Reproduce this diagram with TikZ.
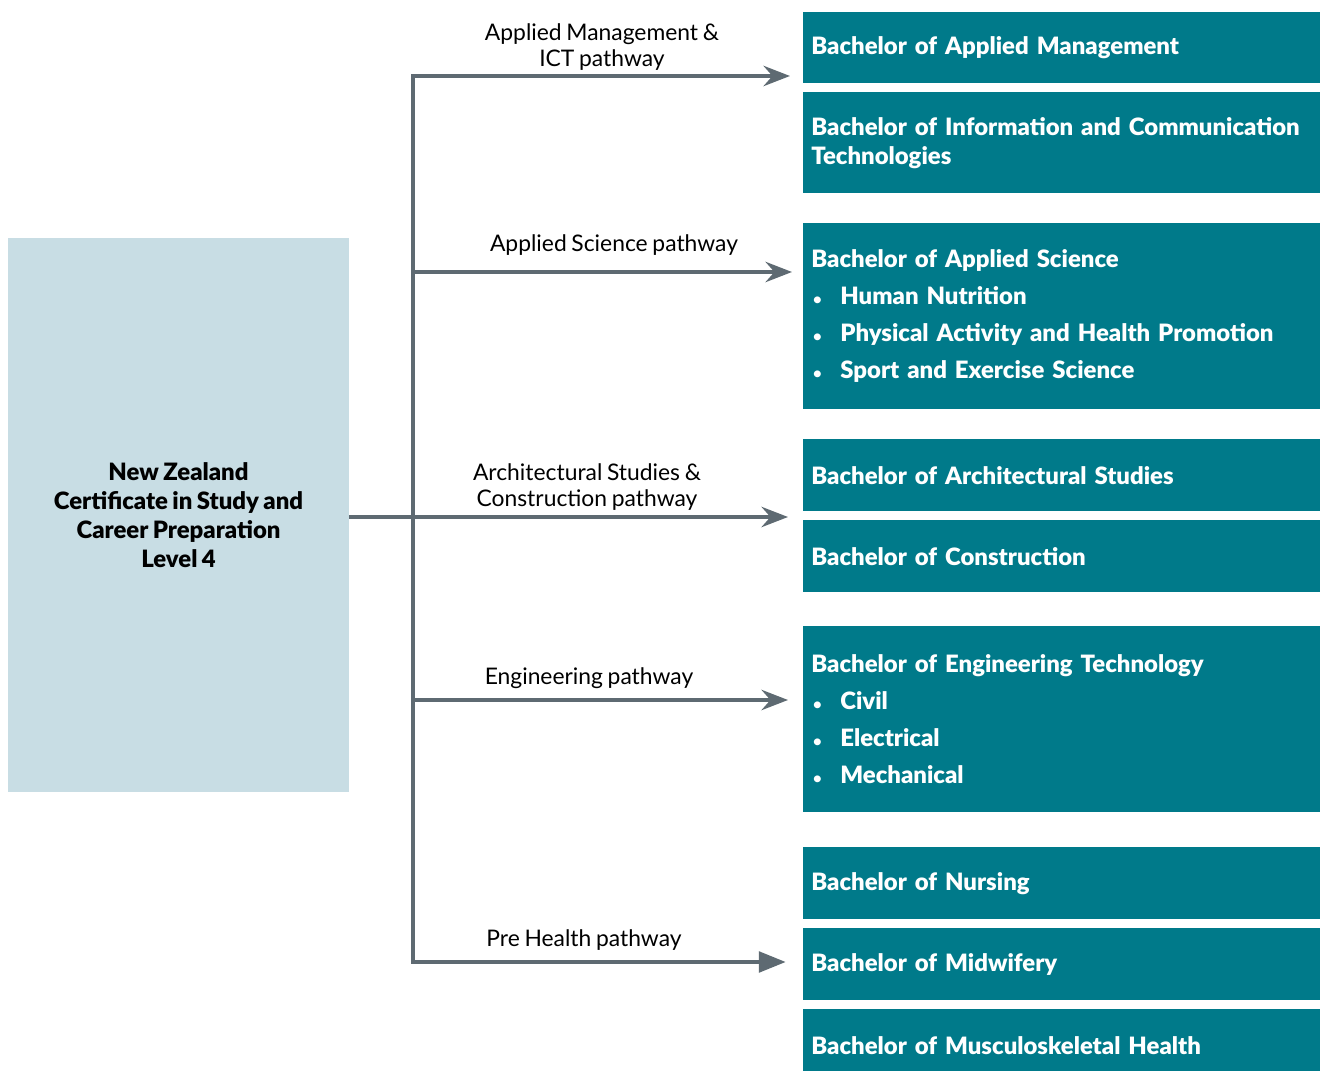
\documentclass[tikz,border=0pt]{standalone}
\usepackage{fontspec}
\setsansfont{Lato}[BoldFont={Lato Black}, WordSpace=0.8]
\usetikzlibrary{positioning, arrows.meta}
\definecolor{degreeteal}{HTML}{007A8A}
\definecolor{certblue}{HTML}{C8DDE4}
\definecolor{pathgray}{HTML}{5E6A72}
\newcommand{\degbullet}[1]{\\[4.5pt]\makebox[0.58cm][l]{\hspace{0.04cm}{\footnotesize\textbullet}}#1}
\tikzset{
	degree/.style={fill=degreeteal, text=white, anchor=north west, font=\sffamily\bfseries\fontsize{13.6}{16.5}\selectfont, minimum width=10.34cm, text width=10.02cm, inner xsep=0.16cm, inner ysep=0pt, align=left},
	pathway/.style={draw=pathgray, line width=2.8pt},
	pathlabel/.style={font=\sffamily\fontsize{13}{14.5}\selectfont, align=center, inner sep=0pt},
	>={Stealth[length=15pt, width=11.5pt, inset=5pt]}
}

\begin{document}
\begin{tikzpicture}[x=0.02cm, y=-0.02cm]
		\useasboundingbox (0, 0) rectangle (1320, 1071);
		\node[fill=certblue, minimum width=6.82cm, minimum height=11.08cm, align=center, inner sep=0pt, font=\sffamily\bfseries\fontsize{13.6}{16.5}\selectfont] (cert) at (178.5, 515) {New Zealand\\Certificate in Study and\\Career Preparation\\Level 4};
		\node[degree, minimum height=1.42cm] (bam) at (803, 12) {Bachelor of Applied Management};
		\node[degree, minimum height=2.02cm] (bict) at (803, 92) {Bachelor of Information and Communication\\Technologies};
		\node[degree, minimum height=3.72cm] (basc) at (803, 223) {Bachelor of Applied Science\degbullet{Human Nutrition}\degbullet{Physical Activity and Health Promotion}\degbullet{Sport and Exercise Science}};
		\node[degree, minimum height=1.44cm] (bas) at (803, 439) {Bachelor of Architectural Studies};
		\node[degree, minimum height=1.44cm] (bcon) at (803, 520) {Bachelor of Construction};
		\node[degree, minimum height=3.72cm] (bet) at (803, 626) {Bachelor of Engineering Technology\degbullet{Civil}\degbullet{Electrical}\degbullet{Mechanical}};
		\node[degree, minimum height=1.44cm] (bn) at (803, 847) {Bachelor of Nursing};
		\node[degree, minimum height=1.44cm] (bm) at (803, 928) {Bachelor of Midwifery};
		\node[degree, minimum height=1.44cm] (bmh) at (803, 1009) {Bachelor of Musculoskeletal Health};
		% trunk
		\coordinate (t1) at (413, 76);
		\coordinate (t2) at (413, 272);
		\coordinate (t3) at (413, 517);
		\coordinate (t4) at (413, 700);
		\coordinate (t5) at (413, 962);
		\draw[pathway, {Stealth[length=15pt, width=11.5pt, inset=5pt]}-{Triangle[length=15.5pt, width=11.5pt]}, shorten <=0.26cm, shorten >=0.34cm] (t1 -| bam.west) -- (t1) -- (t5) -- (t5 -| bm.west);
		\draw[pathway, ->, shorten >=0.22cm] (t2) -- (t2 -| basc.west);
		\draw[pathway, ->, shorten >=0.3cm] (t3 -| cert.east) -- (t3 -| bas.west);
		\draw[pathway, ->, shorten >=0.3cm] (t4) -- (t4 -| bet.west);
		\node[pathlabel] (lam) at (602, 47) {Applied Management \&\\ICT pathway};
		\node[pathlabel] (lsc) at (614, 245) {Applied Science pathway};
		\node[pathlabel] (lac) at (587, 487) {Architectural Studies \&\\Construction pathway};
		\node[pathlabel] (len) at (589, 678) {Engineering pathway};
		\node[pathlabel] (lph) at (584, 940) {Pre Health pathway};
	\end{tikzpicture}
\end{document}
